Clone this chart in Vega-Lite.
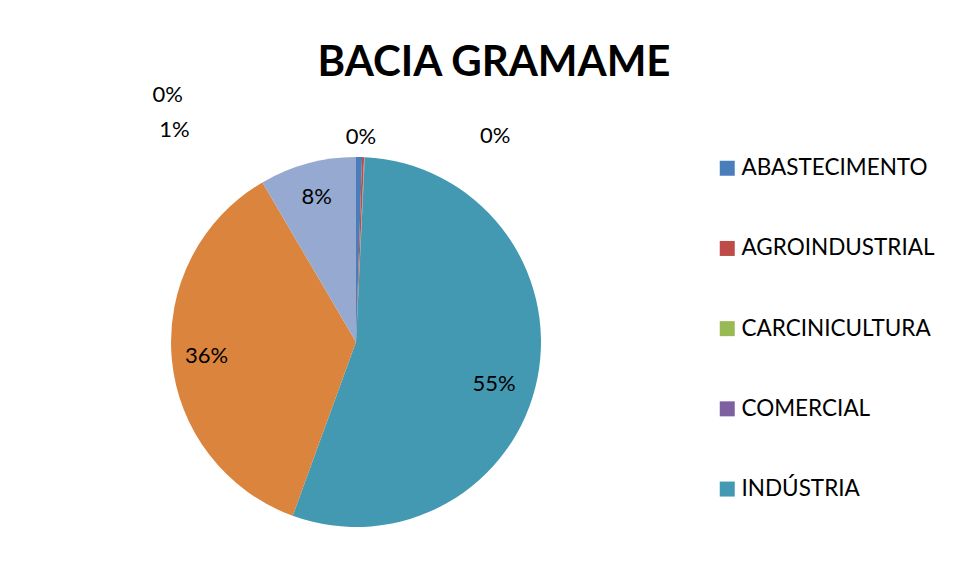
{
  "$schema": "https://vega.github.io/schema/vega-lite/v6.json",
  "width": 712,
  "height": 474,
  "autosize": {"type": "none"},
  "padding": {"left": 0, "top": 105, "right": 249, "bottom": 0},
  "background": "white",
  "config": {"view": {"stroke": null}, "font": "Lato"},
  "title": {
    "text": "BACIA GRAMAME",
    "fontSize": 42,
    "fontWeight": "bold",
    "font": "Lato",
    "color": "black",
    "anchor": "middle",
    "frame": "group",
    "dx": 138,
    "offset": -34,
    "baseline": "alphabetic"
  },
  "data": {
    "values": [
      {"setor": "ABASTECIMENTO", "v": 0.0052},
      {"setor": "AGROINDUSTRIAL", "v": 0.0018},
      {"setor": "CARCINICULTURA", "v": 0.0003},
      {"setor": "COMERCIAL", "v": 0.0003},
      {"setor": "INDÚSTRIA", "v": 0.548},
      {"setor": "IRRIGAÇÃO", "v": 0.36},
      {"setor": "OUTROS", "v": 0.0844}
    ]
  },
  "encoding": {
    "theta": {"field": "v", "type": "quantitative", "stack": true},
    "order": {"field": "setor", "type": "ordinal", "sort": "ascending"}
  },
  "layer": [
    {
      "mark": {"type": "arc", "outerRadius": 185},
      "encoding": {
        "color": {
          "field": "setor",
          "type": "nominal",
          "scale": {
            "domain": ["ABASTECIMENTO", "AGROINDUSTRIAL", "CARCINICULTURA", "COMERCIAL", "INDÚSTRIA", "IRRIGAÇÃO", "OUTROS"],
            "range": ["#4A7EBB", "#BE4B48", "#98B954", "#7D60A0", "#4299B1", "#DB843D", "#95A9D1"]
          },
          "legend": {
            "orient": "none",
            "legendX": 716,
            "legendY": 52,
            "title": null,
            "values": ["ABASTECIMENTO", "AGROINDUSTRIAL", "CARCINICULTURA", "COMERCIAL", "INDÚSTRIA"],
            "symbolType": "square",
            "symbolSize": 225,
            "symbolStrokeWidth": 0,
            "labelFontSize": 22.5,
            "labelFont": "Lato",
            "labelColor": "black",
            "labelLimit": 400,
            "labelOffset": 3,
            "rowPadding": 57.2,
            "padding": 0
          }
        }
      }
    },
    {
      "mark": {"type": "text", "fontSize": 22, "font": "Lato", "color": "black"},
      "encoding": {
        "radius": {"value": 150},
        "text": {
          "condition": {"test": "datum.setor === 'IRRIGAÇÃO' || datum.setor === 'OUTROS'", "field": "v", "type": "quantitative", "format": ".0%"},
          "value": ""
        }
      }
    },
    {
      "mark": {"type": "text", "fontSize": 22, "font": "Lato", "color": "black", "dx": -9, "dy": 12},
      "encoding": {
        "radius": {"value": 150},
        "text": {
          "condition": {"test": "datum.setor === 'INDÚSTRIA'", "field": "v", "type": "quantitative", "format": ".0%"},
          "value": ""
        }
      }
    },
    {
      "mark": {"type": "text", "fontSize": 22, "font": "Lato", "color": "black", "dx": -185, "dy": -7},
      "encoding": {
        "radius": {"value": 205},
        "text": {
          "condition": {"test": "datum.setor === 'ABASTECIMENTO'", "field": "v", "type": "quantitative", "format": ".0%"},
          "value": ""
        }
      }
    },
    {
      "mark": {"type": "text", "fontSize": 22, "font": "Lato", "color": "black", "dx": -3, "dy": 0},
      "encoding": {
        "radius": {"value": 205},
        "text": {
          "condition": {"test": "datum.setor === 'AGROINDUSTRIAL'", "field": "v", "type": "quantitative", "format": ".0%"},
          "value": ""
        }
      }
    },
    {
      "mark": {"type": "text", "fontSize": 22, "font": "Lato", "color": "black", "dx": 130, "dy": -1},
      "encoding": {
        "radius": {"value": 205},
        "text": {
          "condition": {"test": "datum.setor === 'CARCINICULTURA'", "field": "v", "type": "quantitative", "format": ".0%"},
          "value": ""
        }
      }
    },
    {
      "mark": {"type": "text", "fontSize": 22, "font": "Lato", "color": "black", "dx": -198, "dy": -42},
      "encoding": {
        "radius": {"value": 205},
        "text": {
          "condition": {"test": "datum.setor === 'COMERCIAL'", "field": "v", "type": "quantitative", "format": ".0%"},
          "value": ""
        }
      }
    }
  ]
}
